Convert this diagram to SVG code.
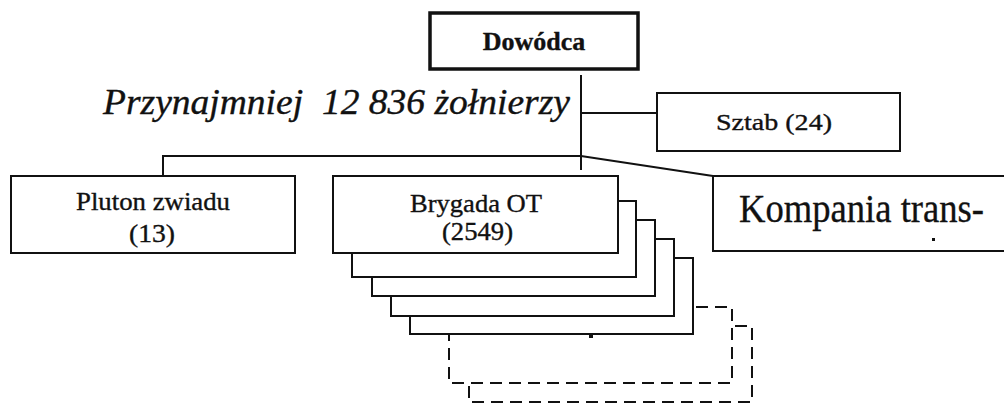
<svg xmlns="http://www.w3.org/2000/svg" width="1004" height="403" viewBox="0 0 1004 403">
<style>
.box{fill:#fff;stroke:#111;stroke-width:2}
.dash{fill:#fff;stroke:#111;stroke-width:2;stroke-dasharray:12 7}
.ln{fill:none;stroke:#111;stroke-width:2}
text{font-family:'Liberation Serif','DejaVu Serif',serif;fill:#111;stroke:#111;stroke-width:0.35}
</style>
<rect width="1004" height="403" fill="#fff"/>
<g id="connectors">
<line class="ln" x1="581" y1="75" x2="581" y2="170"/>
<line class="ln" x1="581" y1="113" x2="657" y2="113"/>
<polyline class="ln" points="163,176 163,156 581,156 713,176"/>
</g>
<g id="dowodca">
<rect x="430" y="13" width="208" height="56" fill="#fff" stroke="#111" stroke-width="3.5"/>
<text x="534" y="50" font-size="26" font-weight="bold" text-anchor="middle">Dowódca</text>
</g>
<g id="label-total">
<text x="103" y="114" font-size="35" font-style="italic" xml:space="preserve" textLength="467" lengthAdjust="spacingAndGlyphs">Przynajmniej  12 836 żołnierzy</text>
</g>
<g id="sztab">
<rect class="box" x="657" y="93" width="243" height="58"/>
<text x="716" y="130" font-size="24" textLength="116" lengthAdjust="spacingAndGlyphs">Sztab (24)</text>
</g>
<g id="pluton">
<rect class="box" x="11" y="176" width="284" height="77"/>
<text x="76" y="210" font-size="25" textLength="154" lengthAdjust="spacingAndGlyphs">Pluton zwiadu</text>
<text x="129" y="242" font-size="25" textLength="46" lengthAdjust="spacingAndGlyphs">(13)</text>
</g>
<g id="brygada">
<rect class="dash" x="469" y="326" width="283" height="76"/>
<rect class="dash" x="449" y="307" width="283" height="76"/>
<rect class="box" x="410" y="258" width="283" height="76"/>
<rect class="box" x="391" y="239" width="283" height="77"/>
<rect class="box" x="372" y="220" width="283" height="76"/>
<rect class="box" x="352" y="201" width="284" height="76"/>
<rect class="box" x="333" y="176" width="285" height="77"/>
<text x="410" y="212" font-size="25" textLength="132" lengthAdjust="spacingAndGlyphs">Brygada OT</text>
<text x="442" y="240" font-size="25" textLength="71" lengthAdjust="spacingAndGlyphs">(2549)</text>
<rect x="589" y="334" width="4" height="4" fill="#111"/>
</g>
<g id="kompania">
<path fill="#fff" stroke="#111" stroke-width="2" d="M1004,176 H713 V251 H1004"/>
<text x="739" y="222" font-size="41" textLength="245" lengthAdjust="spacingAndGlyphs">Kompania trans-</text>
<rect x="932" y="238" width="3" height="3" fill="#111"/>
</g>
</svg>
